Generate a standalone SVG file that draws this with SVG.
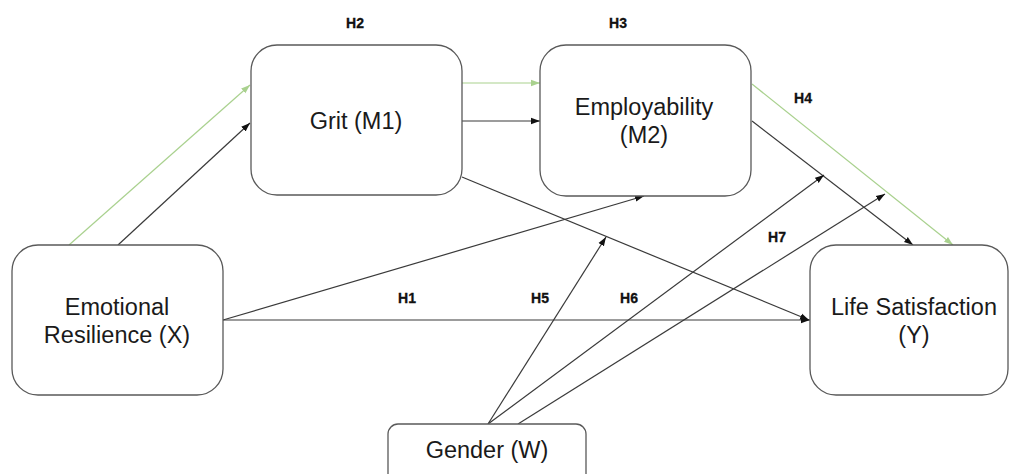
<svg xmlns="http://www.w3.org/2000/svg" width="1010" height="474" viewBox="0 0 1010 474">
<style>
.box{fill:#ffffff;stroke:#595959;stroke-width:1.3}
.lbl{font-family:"Liberation Sans",Arial,sans-serif;font-size:23.5px;fill:#1a1a1a;text-anchor:middle}
.h{font-family:"Liberation Sans",Arial,sans-serif;font-size:14px;font-weight:bold;fill:#111;stroke:#111;stroke-width:0.3;text-anchor:middle}
.k{stroke:#3a3a3a;stroke-width:1.2;fill:none;marker-end:url(#ak)}
.g{stroke:#a9d18e;stroke-width:1.2;fill:none;marker-end:url(#ag)}
</style>
<defs>
<marker id="ak" markerUnits="userSpaceOnUse" markerWidth="10" markerHeight="8" refX="9" refY="4" orient="auto"><path d="M0,0.8 L9,4 L0,7.2 Z" fill="#111"/></marker>
<marker id="ag" markerUnits="userSpaceOnUse" markerWidth="10" markerHeight="8" refX="9" refY="4" orient="auto"><path d="M0,0.8 L9,4 L0,7.2 Z" fill="#a9d18e"/></marker>
</defs>
<rect width="1010" height="474" fill="#ffffff"/>
<g id="connectors">
<line class="g" x1="69" y1="245" x2="250" y2="85"/>
<line class="k" x1="118" y1="245" x2="250" y2="123"/>
<line class="g" x1="462" y1="83" x2="540" y2="83"/>
<line class="k" x1="462" y1="121" x2="540" y2="121"/>
<line class="g" x1="752" y1="84" x2="953" y2="245"/>
<line class="k" x1="752" y1="121" x2="913" y2="245"/>
<line class="k" x1="223" y1="320" x2="644" y2="196"/>
<line class="k" x1="223" y1="320" x2="810" y2="320"/>
<line class="k" x1="462" y1="177" x2="809" y2="320"/>
<line class="k" x1="488" y1="424" x2="606" y2="237"/>
<line class="k" x1="488" y1="424" x2="824" y2="175"/>
<line class="k" x1="518" y1="424" x2="885" y2="194"/>
</g>
<g id="labels">
<text class="h" x="355" y="28">H2</text>
<text class="h" x="618" y="28">H3</text>
<text class="h" x="803" y="103">H4</text>
<text class="h" x="777" y="242">H7</text>
<text class="h" x="407" y="303">H1</text>
<text class="h" x="540" y="303">H5</text>
<text class="h" x="629" y="303">H6</text>
</g>
<g id="node-x">
<rect class="box" x="12" y="245" width="211" height="150" rx="26"/>
<text class="lbl" x="117" y="315">Emotional</text>
<text class="lbl" x="117" y="343">Resilience (X)</text>
</g>
<g id="node-m1">
<rect class="box" x="251" y="45" width="211" height="150" rx="26"/>
<text class="lbl" x="356" y="129">Grit (M1)</text>
</g>
<g id="node-m2">
<rect class="box" x="540" y="45" width="211" height="151" rx="26"/>
<text class="lbl" x="644" y="115">Employability</text>
<text class="lbl" x="644" y="143">(M2)</text>
</g>
<g id="node-y">
<rect class="box" x="810" y="245" width="198" height="150" rx="26"/>
<text class="lbl" x="914" y="315">Life Satisfaction</text>
<text class="lbl" x="914" y="343">(Y)</text>
</g>
<g id="node-w">
<rect class="box" x="388" y="424" width="198" height="62" rx="10"/>
<text class="lbl" x="487" y="458">Gender (W)</text>
</g>
</svg>
